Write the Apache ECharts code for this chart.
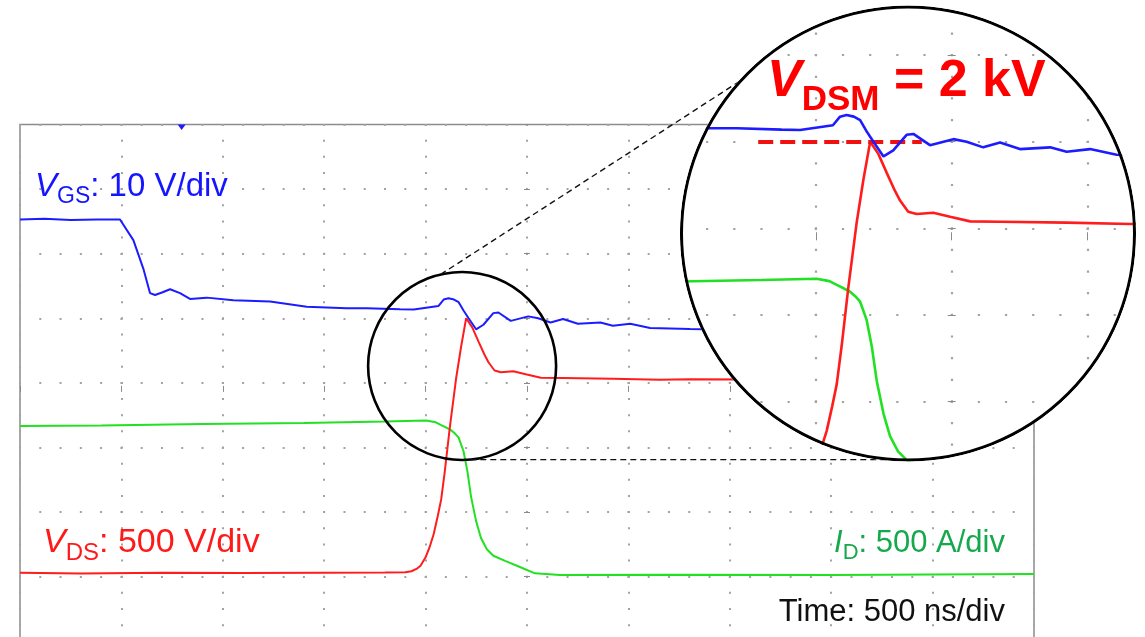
<!DOCTYPE html>
<html>
<head>
<meta charset="utf-8">
<script src="https://cdn.jsdelivr.net/npm/echarts@6/dist/echarts.min.js"></script>
<style>
  html, body { margin: 0; padding: 0; background: #fff; }
  #main, #zoom { position: absolute; left: 0; top: 0; width: 1145px; height: 637px; }
  #zoom { background: #fff; }
</style>
</head>
<body>
<div id="main"></div>
<div id="zoom"></div>
<script>
// ---- waveform samples (time in ns, 500 ns/div) ----
const vgsTimeNs = [0, 120, 250, 380, 493, 501, 559, 608, 641, 666, 700, 740, 789, 838, 921, 1052, 1233, 1414, 1610, 1710, 1874, 1942, 2063, 2089, 2113, 2140, 2163, 2187, 2212, 2249, 2285, 2334, 2359, 2420, 2506, 2555, 2616, 2678, 2751, 2862, 2923, 3009, 3107, 3304, 3700, 4300, 5000];
const vgsVolts  = [15.3, 15.4, 15.2, 15.3, 15.3, 14.9, 12.1, 7.7, 3.9, 3.6, 4.0, 4.5, 3.9, 3.0, 3.2, 2.8, 2.6, 1.8, 1.55, 1.55, 1.4, 1.35, 1.9, 2.9, 3.1, 2.9, 2.5, 1.2, 0.0, -1.7, -1.0, 0.8, 0.9, -0.4, 0.3, 0.0, -0.65, -0.1, -0.85, -0.65, -1.15, -0.85, -1.5, -1.65, -1.9, -2.0, -2.1];

const vdsTimeNs = [0, 300, 700, 1100, 1500, 1800, 1900, 1930, 1955, 1975, 2000, 2020, 2040, 2060, 2077, 2095, 2119, 2150, 2175, 2200, 2230, 2261, 2290, 2310, 2340, 2371, 2432, 2494, 2568, 2678, 2923, 3156, 3304, 4000, 5000];
const vdsVolts  = [30, 25, 30, 28, 30, 32, 35, 42, 60, 85, 150, 230, 330, 470, 600, 820, 1150, 1530, 1780, 2000, 1930, 1820, 1720, 1660, 1596, 1583, 1590, 1567, 1540, 1538, 1533, 1525, 1528, 1525, 1522];

const idTimeNs = [0, 400, 900, 1400, 1800, 2003, 2050, 2077, 2100, 2126, 2145, 2163, 2187, 2206, 2224, 2249, 2273, 2303, 2334, 2392, 2465, 2539, 2663, 3200, 4000, 5000];
const idAmps   = [1166, 1170, 1182, 1190, 1201, 1209, 1195, 1173, 1155, 1134, 1108, 1076, 971, 817, 620, 430, 300, 210, 162, 122, 75, 26, 13, 15, 14, 20];

// ---- scope settings / annotations ----
const channelScales = { vgs: '10 V/div', vds: '500 V/div', id: '500 A/div', time: '500 ns/div' };
const VDS_PEAK = 2000;                 // overshoot, V
const peakText = '2 kV';
const peakLineFromNs = 1788, peakLineToNs = 2390;
const triggerNs = 797;
const zoomCentre = [2180, 1631];       // centre of the magnified window (ns, V)

// ---- geometry ----
const FONT = '"Liberation Sans", Arial, Helvetica, sans-serif';
const MAIN_GRID = { left: 20, top: 124.5, width: 1014, height: 516.8 };
const MAG = 1.34;
const ZOOM_ANCHOR = [951.7, 228.3];     // where the graticule centre lands in the inset
const ZOOM_GRID = {
  left: ZOOM_ANCHOR[0] - MAIN_GRID.width / 2 * MAG,
  top: ZOOM_ANCHOR[1] - MAIN_GRID.height / 2 * MAG,
  width: MAIN_GRID.width * MAG,
  height: MAIN_GRID.height * MAG
};
const RING = { cx: 908, cy: 233.5, r: 226.5 };
const SMALL_R = 94;

const zip = (xs, ys) => xs.map((x, i) => [x, ys[i]]);

function buildOption(grid, lineW, dot, tickLen) {
  const perV = grid.height / 8 / 4;   // dots along vertical graticule lines
  const perH = grid.width / 10 / 5;   // dots along horizontal graticule lines
  const dotColor = '#a3a3a3';
  const hidden = { axisLine: { show: false }, axisTick: { show: false }, axisLabel: { show: false } };
  return {
    animation: false,
    grid: Object.assign({ show: false, containLabel: false, outerBoundsMode: 'none' }, grid),
    xAxis: [
      Object.assign({ type: 'value', min: 0, max: 5000, interval: 500,
        splitLine: { show: true, lineStyle: { color: dotColor, width: dot, type: [dot, perV - dot], dashOffset: dot / 2 } } }, hidden),
      { type: 'value', min: 0, max: 5000, interval: 500, position: 'bottom',
        offset: -grid.height / 2 - tickLen / 2,
        axisLine: { show: false }, axisLabel: { show: false }, splitLine: { show: false },
        axisTick: { show: true, length: tickLen, lineStyle: { color: '#8a8a8a', width: 1 } } }
    ],
    yAxis: [
      Object.assign({ type: 'value', min: -500, max: 3500, interval: 500,
        splitLine: { show: true, lineStyle: { color: dotColor, width: dot, type: [dot, perH - dot], dashOffset: dot / 2 } } }, hidden),
      Object.assign({ type: 'value', min: -50, max: 30, interval: 10, splitLine: { show: false } }, hidden),
      { type: 'value', min: -500, max: 3500, interval: 500, position: 'left',
        offset: -(grid.width / 2 + tickLen / 2),
        axisLine: { show: false }, axisLabel: { show: false }, splitLine: { show: false },
        axisTick: { show: true, length: tickLen, lineStyle: { color: '#8a8a8a', width: 1 } } }
    ],
    series: [
      { name: 'ID', type: 'line', xAxisIndex: 0, yAxisIndex: 0, data: zip(idTimeNs, idAmps),
        showSymbol: false, lineStyle: { color: '#22e022', width: lineW }, z: 3 },
      { name: 'VDS', type: 'line', xAxisIndex: 0, yAxisIndex: 0, data: zip(vdsTimeNs, vdsVolts),
        showSymbol: false, lineStyle: { color: '#ff1c1c', width: lineW }, z: 4 },
      { name: 'VGS', type: 'line', xAxisIndex: 0, yAxisIndex: 1, data: zip(vgsTimeNs, vgsVolts),
        showSymbol: false, lineStyle: { color: '#1c1cff', width: lineW }, z: 5 }
    ]
  };
}

function richLabel(x, y, align, color, text, size, subSize, raise) {
  return {
    type: 'text', x: x, y: y, z: 50,
    style: {
      text: text, align: align, textAlign: align, verticalAlign: 'bottom', textVerticalAlign: 'bottom',
      fill: color, fontFamily: FONT, fontSize: size,
      rich: {
        v: { fill: color, fontFamily: FONT, fontSize: size, fontStyle: 'italic', verticalAlign: 'bottom', padding: [0, 0, raise, 0] },
        s: { fill: color, fontFamily: FONT, fontSize: subSize, verticalAlign: 'bottom' },
        t: { fill: color, fontFamily: FONT, fontSize: size, verticalAlign: 'bottom', padding: [0, 0, raise, 0] }
      }
    }
  };
}

// ---- main scope screen ----
const main = echarts.init(document.getElementById('main'));
const mainOpt = buildOption(MAIN_GRID, 2, 2, 6);
mainOpt.grid.show = true;
mainOpt.grid.borderColor = '#8c8c8c';
mainOpt.grid.borderWidth = 1.5;
main.setOption(mainOpt);

const c0 = main.convertToPixel({ xAxisIndex: 0, yAxisIndex: 0 }, zoomCentre);
const trig = main.convertToPixel({ xAxisIndex: 0, yAxisIndex: 0 }, [triggerNs, 0]);
const onCircle = (c, r, deg) => [c[0] + r * Math.cos(deg * Math.PI / 180), c[1] + r * Math.sin(deg * Math.PI / 180)];
const topA = onCircle(c0, SMALL_R, -103.2);
const topB = onCircle([RING.cx, RING.cy], RING.r, -137.4);
const botA = onCircle(c0, SMALL_R, 85);
const dash = { stroke: '#111', lineWidth: 1.4, lineDash: [6, 4] };

main.setOption({
  graphic: [
    { type: 'circle', shape: { cx: c0[0], cy: c0[1], r: SMALL_R }, style: { fill: 'none', stroke: '#000', lineWidth: 2.6 }, z: 40 },
    { type: 'line', shape: { x1: topA[0], y1: topA[1], x2: topB[0], y2: topB[1] }, style: dash, z: 40 },
    { type: 'line', shape: { x1: botA[0], y1: botA[1], x2: RING.cx - 10, y2: botA[1] }, style: dash, z: 40 },
    { type: 'polygon', shape: { points: [[trig[0] - 4, MAIN_GRID.top], [trig[0] + 4, MAIN_GRID.top], [trig[0], MAIN_GRID.top + 5.5]] },
      style: { fill: '#1c1cff' }, z: 41 },
    richLabel(35, 208, 'left', '#1515ff', '{v|V}{s|GS}{t|: ' + channelScales.vgs + '}', 33, 23, 5),
    richLabel(43, 565, 'left', '#ff1a1a', '{v|V}{s|DS}{t|: ' + channelScales.vds + '}', 34, 24, 5),
    richLabel(1005, 564, 'right', '#16a84c', '{v|I}{s|D}{t|: ' + channelScales.id + '}', 31, 22, 5),
    richLabel(1005, 633, 'right', '#111111', '{t|Time: ' + channelScales.time + '}', 31, 22, 5)
  ]
});

// ---- magnified inset ----
const zoomEl = document.getElementById('zoom');
zoomEl.style.clipPath = 'circle(' + (RING.r + 1.6) + 'px at ' + RING.cx + 'px ' + RING.cy + 'px)';
const zoom = echarts.init(zoomEl);
const zoomOpt = buildOption(ZOOM_GRID, 2.6, 2.2, 8);
zoomOpt.series[1].markLine = {
  silent: true, symbol: 'none', label: { show: false },
  lineStyle: { color: '#f01010', width: 4, type: [15, 7] },
  data: [[{ coord: [peakLineFromNs, VDS_PEAK] }, { coord: [peakLineToNs, VDS_PEAK] }]]
};
zoomOpt.graphic = [
  { type: 'circle', shape: { cx: RING.cx, cy: RING.cy, r: RING.r }, style: { fill: 'none', stroke: '#000', lineWidth: 3 }, z: 60 },
  {
    type: 'text', x: 767, y: 118, z: 61,
    style: {
      text: '{v|V}{s|DSM}{t| = ' + peakText + '}', align: 'left', textAlign: 'left',
      verticalAlign: 'bottom', textVerticalAlign: 'bottom', fill: '#f00',
      fontFamily: FONT, fontSize: 52, fontWeight: 'bold',
      rich: {
        v: { fill: '#f00', fontFamily: FONT, fontSize: 52, fontWeight: 'bold', fontStyle: 'italic', verticalAlign: 'bottom', padding: [0, 0, 10, 0] },
        s: { fill: '#f00', fontFamily: FONT, fontSize: 35, fontWeight: 'bold', verticalAlign: 'bottom' },
        t: { fill: '#f00', fontFamily: FONT, fontSize: 52, fontWeight: 'bold', verticalAlign: 'bottom', padding: [0, 0, 10, 0] }
      }
    }
  }
];
zoom.setOption(zoomOpt);
</script>
</body>
</html>
